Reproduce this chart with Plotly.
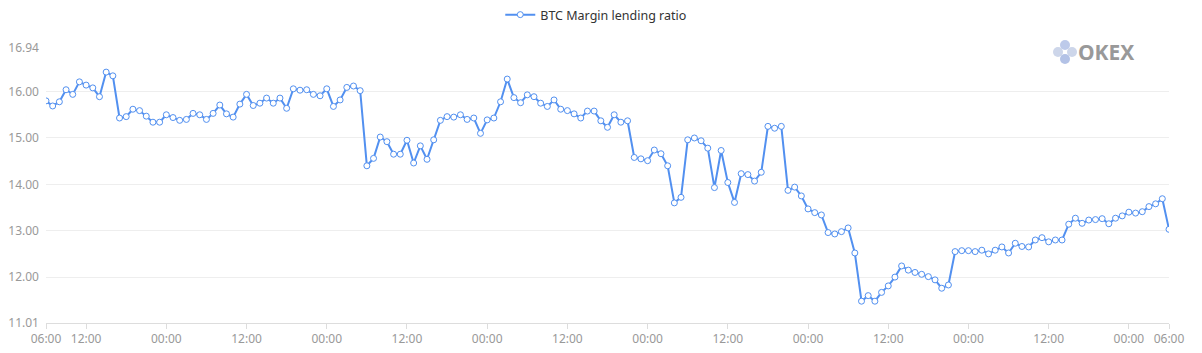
import pandas as pd
import plotly.graph_objects as go

series_name = "BTC Margin lending ratio"
start_time = "2020-03-02 06:00"
ratio = [
    15.80, 15.69, 15.78, 16.04, 15.94, 16.21, 16.14, 16.08, 15.89, 16.42,
    16.34, 15.43, 15.46, 15.62, 15.59, 15.47, 15.34, 15.34, 15.50, 15.44,
    15.38, 15.40, 15.53, 15.50, 15.40, 15.53, 15.71, 15.52, 15.45, 15.73,
    15.94, 15.70, 15.75, 15.86, 15.75, 15.86, 15.64, 16.06, 16.03, 16.04,
    15.94, 15.91, 16.06, 15.68, 15.82, 16.09, 16.12, 16.02, 14.40, 14.56,
    15.02, 14.92, 14.65, 14.65, 14.95, 14.46, 14.83, 14.54, 14.96, 15.38,
    15.46, 15.45, 15.50, 15.40, 15.43, 15.10, 15.39, 15.43, 15.78, 16.27,
    15.87, 15.76, 15.93, 15.89, 15.75, 15.68, 15.82, 15.62, 15.59, 15.52,
    15.43, 15.58, 15.58, 15.37, 15.23, 15.50, 15.34, 15.37, 14.58, 14.55,
    14.51, 14.74, 14.66, 14.40, 13.60, 13.72, 14.96, 15.00, 14.94, 14.78,
    13.93, 14.73, 14.04, 13.61, 14.23, 14.21, 14.07, 14.26, 15.25, 15.21,
    15.25, 13.87, 13.94, 13.75, 13.47, 13.39, 13.34, 12.96, 12.93, 12.98,
    13.06, 12.52, 11.48, 11.60, 11.48, 11.67, 11.81, 12.00, 12.24, 12.15,
    12.10, 12.06, 12.01, 11.94, 11.76, 11.83, 12.55, 12.57, 12.57, 12.55,
    12.58, 12.50, 12.58, 12.65, 12.52, 12.73, 12.66, 12.65, 12.80, 12.85,
    12.76, 12.80, 12.80, 13.14, 13.27, 13.16, 13.23, 13.24, 13.26, 13.15,
    13.27, 13.32, 13.40, 13.38, 13.41, 13.52, 13.58, 13.69, 13.03,
]
y_min, y_max = 11.01, 16.94
y_ticks = [11.01, 12.00, 13.00, 14.00, 15.00, 16.00, 16.94]

times = pd.date_range(start_time, periods=len(ratio), freq="h")
tick_times = [t for i, t in enumerate(times)
              if i == 0 or i == len(times) - 1 or t.hour in (0, 12)]
tick_text = [t.strftime("%H:%M") for t in tick_times]

blue = "#5290f0"
fig = go.Figure()
fig.add_trace(go.Scatter(
    x=times, y=ratio, mode="lines+markers", name=series_name,
    line=dict(color=blue, width=2),
    marker=dict(symbol="circle", size=6, color="white",
                line=dict(color=blue, width=1)),
))

font_family = "Noto Sans, Open Sans, sans-serif"
L, R, T, B = 46, 33, 48, 30
W, H = 1202, 353
pw, ph = W - L - R, H - T - B
fig.update_layout(
    width=W, height=H,
    margin=dict(l=L, r=R, t=T, b=B, autoexpand=False),
    paper_bgcolor="white", plot_bgcolor="white",
    font=dict(family=font_family, size=12, color="#999"),
    showlegend=True,
    legend=dict(orientation="h", x=0.49, xanchor="center",
                yref="container", y=1 - 15 / H, yanchor="middle",
                font=dict(color="#333", size=12.5),
                bgcolor="rgba(0,0,0,0)"),
    xaxis=dict(range=[times[0], times[-1]], tickvals=tick_times,
               ticktext=tick_text, showgrid=False, showline=True,
               linecolor="#ddd", ticks="outside", tickcolor="#ddd",
               ticklen=5, zeroline=False, automargin=False,
               tickfont=dict(color="#999", size=12)),
    yaxis=dict(range=[y_min, y_max], tickvals=y_ticks,
               ticktext=[f"{v:.2f}" for v in y_ticks],
               showgrid=True, gridcolor="#eeeeee", zeroline=False,
               showline=False, ticks="", ticklabelstandoff=6,
               automargin=False,
               tickfont=dict(color="#999", size=12)),
)

# watermark logo
for cx, cy, col in [(1058, 52, "#cdd6ea"), (1065, 45, "#bdcaea"),
                    (1072, 52, "#cdd6ea"), (1065, 59, "#b3c2e6")]:
    fig.add_shape(type="circle", xref="paper", yref="paper",
                  x0=(cx - 5 - L) / pw, x1=(cx + 5 - L) / pw,
                  y0=(H - B - cy - 5) / ph, y1=(H - B - cy + 5) / ph,
                  fillcolor=col, line=dict(width=0), layer="above")
fig.add_annotation(text="<b>OKEX</b>", xref="paper", yref="paper",
                   x=(1076 - L) / pw, y=(H - B - 52) / ph,
                   xanchor="left", yanchor="middle", showarrow=False,
                   font=dict(size=21, color="#999", family=font_family))

fig.write_html("out.html")
